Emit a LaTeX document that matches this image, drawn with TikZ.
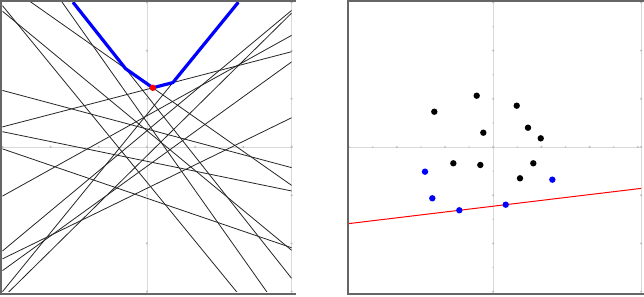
\documentclass[tikz,border=0pt]{standalone}
\begin{document}
\begin{tikzpicture}[x=0.5pt,y=0.5pt,
  frameline/.style={draw=black!60, line width=1pt},
  gridline/.style={draw=black!15, line width=0.5pt},
  tickdot/.style={fill=black!25},
  dualline/.style={draw=black!85, line width=0.4pt},
  envelope/.style={draw=blue, line width=1.6pt, line join=round},
  blackpt/.style={fill=black},
  bluept/.style={fill=blue},
  redpt/.style={fill=red}]
\useasboundingbox (0,0) rectangle (644,296);
\def\blackpts{-0.342/1.064, -1.222/0.732, -0.205/0.297, 0.488/0.857, 0.722/0.400, 0.986/0.180, -0.827/-0.338, -0.267/-0.373, 0.832/-0.338, 0.556/-0.649}
\def\bluepts{-1.415/-0.512, -1.263/-1.064, -0.703/-1.313, 0.260/-1.197, 1.227/-0.678}
% ---------- left panel (dual lines) ----------
\begin{scope}[xshift=73.5pt,yshift=74.5pt,x=24.1pt,y=24.1pt]
  \draw[gridline] (3,-3) -- (3,3);
  \draw[gridline] (-3,0) -- (3,0);
  \draw[gridline] (0,-3) -- (0,3);
  \foreach \t in {-3,...,3}{
    \fill[tickdot] (\t,0) circle (0.6pt);
    \fill[tickdot] (0,\t) circle (0.6pt);
    \fill[tickdot] (3,\t) circle (0.6pt);
  }
  \begin{scope}
    \clip (-3,-3) rectangle (3,3);
    \foreach \a/\b in \blackpts {\draw[dualline] (-3,{-3*(\a)-(\b)}) -- (3,{3*(\a)-(\b)});}
    \foreach \a/\b in \bluepts {\draw[dualline] (-3,{-3*(\a)-(\b)}) -- (3,{3*(\a)-(\b)});}
    \coordinate (e0) at (-1.533,3);
    \coordinate (e1) at (-0.4446,1.6255);
    \coordinate (e2) at (0.1205,1.2283);
    \coordinate (e3) at (0.5367,1.3365);
    \coordinate (e4) at (1.8924,3);
    \draw[envelope] (e0) -- (e1) -- (e2) -- (e3) -- (e4);
  \end{scope}
  \fill[redpt] (e2) circle (1.6pt);
\end{scope}
\draw[frameline] (296,294.8) -- (1.2,294.8) -- (1.2,2.3) -- (296,2.3);
% ---------- right panel (points) ----------
\begin{scope}[xshift=246.6pt,yshift=74.5pt,x=24.1pt,y=24.1pt]
  \draw[gridline] (3.07,-3) -- (3.07,3);
  \draw[gridline] (-3,0) -- (3.07,0);
  \draw[gridline] (0,-3) -- (0,3);
  \foreach \t in {-3,...,3}{
    \fill[tickdot] (\t,0) circle (0.6pt);
    \fill[tickdot] (0,\t) circle (0.6pt);
    \fill[tickdot] (3.07,\t) circle (0.6pt);
  }
  \foreach \t in {-2.5,-1.5,-0.5,0.5,1.5,2.5}{
    \fill[tickdot] (\t,0) circle (0.4pt);
    \fill[tickdot] (0,\t) circle (0.4pt);
  }
  \coordinate (rl) at (-3,{-3*0.1205-1.2283});
  \coordinate (rr) at (3.07,{3.07*0.1205-1.2283});
  \draw[red, line width=0.5pt] (rl) -- (rr);
  \foreach \a/\b in \blackpts {\fill[blackpt] (\a,\b) circle (1.6pt);}
  \foreach \a/\b in \bluepts {\fill[bluept] (\a,\b) circle (1.6pt);}
\end{scope}
\draw[frameline] (644,294.8) -- (347.5,294.8) -- (347.5,2.3) -- (644,2.3);
\end{tikzpicture}
\end{document}
